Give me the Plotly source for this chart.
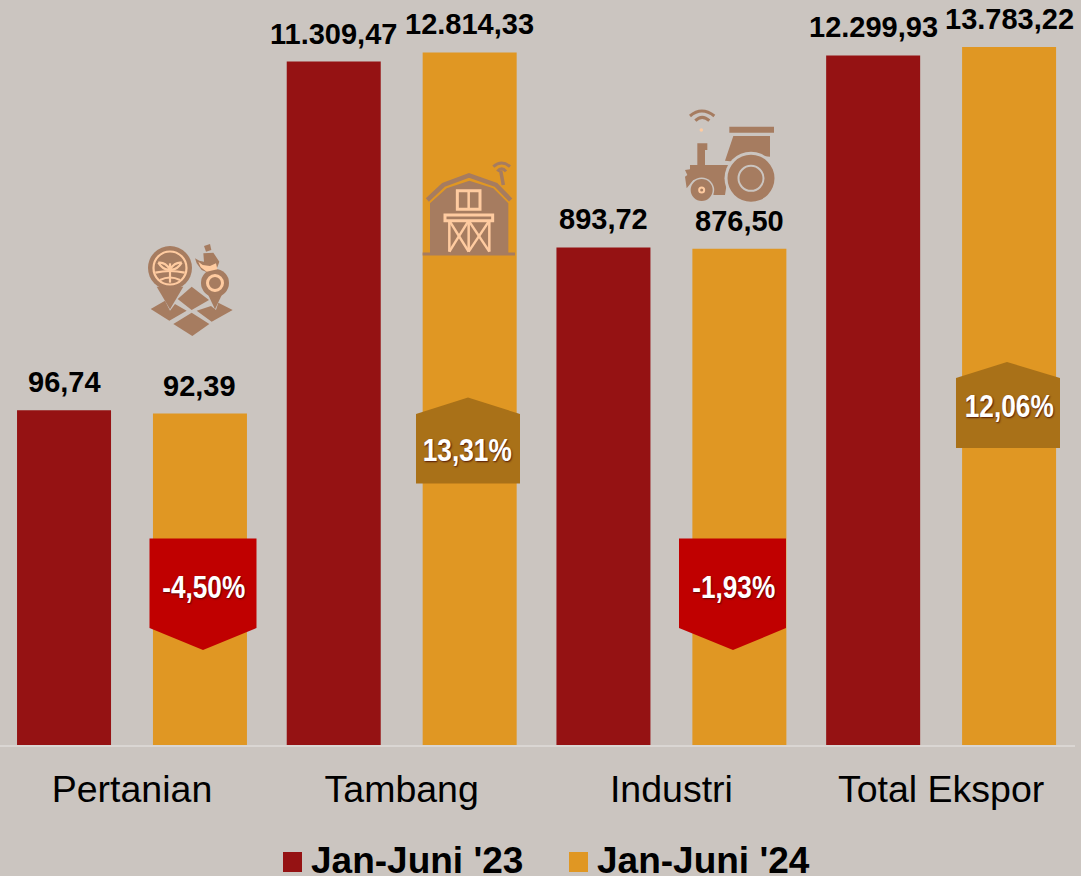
import math
import plotly.graph_objects as go

categories = ["Pertanian", "Tambang", "Industri", "Total Ekspor"]
values_23 = [96.74, 11309.47, 893.72, 12299.93]
values_24 = [92.39, 12814.33, 876.50, 13783.22]
series_names = ["Jan-Juni '23", "Jan-Juni '24"]
change_labels = ["-4,50%", "13,31%", "-1,93%", "12,06%"]

BG = "#CBC5C0"
RED = "#951213"
ORANGE = "#E09723"
ICON = "#A67C60"
PEACH = "#FFCBA0"
W, H = 1081, 876
MT, MB, MR = 0, 131, 6
PW = W - MR
PH = H - MT - MB

def X(p): return p / PW
def Y(p): return 1 - p / PH

def path(pts, close=True):
    s = "M" + " L".join(f"{X(a):.5f},{Y(b):.5f}" for a, b in pts)
    return s + (" Z" if close else "")

shapes = []
def poly(pts, fill, close=True, line=None, lw=0):
    shapes.append(dict(type="path", xref="paper", yref="paper", path=path(pts, close),
                       fillcolor=fill if close else "rgba(0,0,0,0)",
                       line=dict(color=line or "rgba(0,0,0,0)", width=lw)))
def circ(cx, cy, r, fill="rgba(0,0,0,0)", line=None, lw=0):
    shapes.append(dict(type="circle", xref="paper", yref="paper",
                       x0=X(cx - r), x1=X(cx + r), y0=Y(cy + r), y1=Y(cy - r),
                       fillcolor=fill, line=dict(color=line or "rgba(0,0,0,0)", width=lw)))
def curve(p0, c, p1, col, lw):
    shapes.append(dict(type="path", xref="paper", yref="paper",
                       path=f"M{X(p0[0]):.5f},{Y(p0[1]):.5f} Q{X(c[0]):.5f},{Y(c[1]):.5f} {X(p1[0]):.5f},{Y(p1[1]):.5f}",
                       line=dict(color=col, width=lw)))

def z(ox, oy, pts):
    return [(ox + a / 3, oy + b / 3) for a, b in pts]
def zc(o, a, b, c, col, lw):
    p = z(*o, [a, b, c])
    curve(p[0], p[1], p[2], col, lw)

# ---- callouts
poly([(149.5, 538.5), (256.5, 538.5), (256.5, 628), (203, 650), (149.5, 628)], "#C00000")
poly([(679, 538.5), (786, 538.5), (786, 628), (733, 650), (679, 628)], "#C00000")
poly([(416, 483.5), (416, 414), (468, 397.5), (520, 414), (520, 483.5)], "#A97118")
poly([(956, 448), (956, 378), (1007, 362), (1060, 378), (1060, 448)], "#A97118")

# ---- icon 1: map with two pins
o = (130, 230)
for d in ([(185,170),(237,210),(185,240),(143,207)],
          [(62,237),(105,212),(120,242),(135,222),(170,242),(118,272)],
          [(200,242),(243,228),(258,240),(265,218),(308,240),(245,275)],
          [(185,248),(238,282),(187,318),(130,282)]):
    poly(z(*o, d), ICON)
poly(z(*o, [(80,170),(160,170),(120,238)]), ICON)
circ(170, 268, 22, ICON)
circ(170, 268, 16.5, line=PEACH, lw=2.2)
poly(z(*o, [(120,100),(120,158)]), "", close=False, line=PEACH, lw=2.2)
zc(o, (120,118), (135,95), (155,98), PEACH, 2.2)
zc(o, (120,118), (140,122), (155,98), PEACH, 2.2)
zc(o, (120,118), (105,95), (85,98), PEACH, 2.2)
zc(o, (120,118), (100,122), (85,98), PEACH, 2.2)
zc(o, (76,128), (120,118), (164,128), PEACH, 2.2)
zc(o, (90,150), (120,135), (150,150), PEACH, 2.2)
poly(z(*o, [(225,175),(285,175),(255,238)]), ICON)
circ(215, 283, 14, ICON)
circ(215, 283, 7.5, line=PEACH, lw=3)
poly(z(*o, [(222,48),(240,42),(244,60),(228,65)]), ICON)
poly(z(*o, [(220,70),(250,68),(268,95),(262,112),(238,130),(215,120),(200,100),(195,85),(208,92),(222,95)]), ICON)
poly(z(*o, [(205,95),(218,105),(240,108),(258,100),(262,118),(230,125),(212,112)]), PEACH)

# ---- icon 2: barn
o = (410, 150)
poly(z(*o, [(60,160),(110,115),(178,92),(250,115),(295,160),(295,310),(60,310)]), ICON)
poly(z(*o, [(52,150),(100,105),(177,76),(258,105),(302,150)]), "", close=False, line=ICON, lw=4.5)
poly(z(*o, [(38,312),(315,312)]), "", close=False, line=ICON, lw=3)
poly(z(*o, [(272,62),(280,105)]), "", close=False, line=ICON, lw=3.5)
zc(o, (250,50), (275,28), (300,50), ICON, 3)
zc(o, (262,64), (275,48), (288,64), ICON, 3)
poly(z(*o, [(142,122),(210,122),(210,178),(142,178)]), "rgba(0,0,0,0)", line=PEACH, lw=3)
poly(z(*o, [(176,122),(176,178)]), "", close=False, line=PEACH, lw=2.5)
poly(z(*o, [(105,195),(248,195),(248,212),(105,212)]), ICON, line=PEACH, lw=3)
for seg in ([(118,212),(118,305)], [(238,212),(238,305)], [(176,212),(176,305)],
            [(118,212),(176,305)], [(176,212),(118,305)], [(176,212),(238,305)], [(238,212),(176,305)]):
    poly(z(*o, seg), "", close=False, line=PEACH, lw=2.5)

# ---- icon 3: tractor
o = (670, 100)
poly(z(*o, [(178,80),(312,80),(312,98),(178,98)]), ICON)
poly(z(*o, [(190,108),(300,108),(300,170),(235,165),(195,185),(165,182)]), ICON)
poly(z(*o, [(82,130),(112,130),(112,150),(105,150),(105,195),(82,195),(82,148)]), ICON)
poly(z(*o, [(60,195),(205,195),(172,240),(165,285),(130,285),(120,245),(70,240),(50,265),(45,230),(52,225),(45,210),(60,208)]), ICON)
big = z(*o, [(243,235)])[0]
small = z(*o, [(95,270)])[0]
circ(*big, 26.5, BG)
circ(*big, 23.5, ICON)
circ(*big, 12.5, line=BG, lw=2)
circ(*small, 12.5, BG)
circ(*small, 11, ICON)
circ(*small, 3.5, PEACH)
circ(*small, 1.5, ICON)
zc(o, (60,48), (95,18), (133,48), ICON, 3)
zc(o, (76,62), (96,42), (118,62), ICON, 3)
circ(*z(*o, [(94,90)])[0], 1.8, PEACH)

# ---- legend keys
poly([(283, 852), (302, 852), (302, 872), (283, 872)], RED)
poly([(569, 852), (588, 852), (588, 872), (569, 872)], ORANGE)

annotations = []
def label(txt, cx, cy, size, family, color="#000000", shadow=None):
    f = dict(size=size, family=family, color=color, weight="bold")
    if shadow:
        f["shadow"] = shadow
    annotations.append(dict(text=txt, xref="paper", yref="paper", x=X(cx), y=Y(cy),
                            xanchor="center", yanchor="middle", showarrow=False, font=f))

SH = "1px 1px 2px rgba(60,0,0,0.8)"
SANS = "'Liberation Sans', Arial, sans-serif"
centers = [(203, 587), (467, 450), (733, 587), (1009, 406)]
for t, (cx, cy) in zip(change_labels, centers):
    label(t, cx, cy, 32, SANS, "#FFFFFF", SH)
label(series_names[0], 417, 860, 37, SANS)
label(series_names[1], 703, 860, 37, SANS)

def fmt(v):
    return f"{v:,.2f}".replace(",", "#").replace(".", ",").replace("#", ".")

PITCH = 0.504
BW = 0.3485
PX_UNIT = 269.7
fig = go.Figure()
for name, vals, col, sign in ((series_names[0], values_23, RED, -1),
                              (series_names[1], values_24, ORANGE, 1)):
    fig.add_bar(x=categories, y=vals, name=name, width=BW, offset=sign * PITCH / 2 - BW / 2,
                marker=dict(color=col, line=dict(width=0)), showlegend=False)
    for i, v in enumerate(vals):
        annotations.append(dict(x=i, y=math.log10(v), xref="x", yref="y", text=fmt(v),
                                showarrow=False, xanchor="center", yanchor="middle",
                                xshift=sign * PITCH / 2 * PX_UNIT, yshift=28,
                                font=dict(size=29, family=SANS, color="#000000", weight="bold")))

fig.update_layout(
    width=W, height=H, autosize=False,
    margin=dict(l=0, r=MR, t=MT, b=MB, pad=0),
    paper_bgcolor=BG, plot_bgcolor=BG,
    barmode="overlay", separators=",.",
    shapes=shapes, annotations=annotations,
    showlegend=False,
    xaxis=dict(type="category", range=[-0.4894, 3.4964], showgrid=False, zeroline=False,
               showline=True, linecolor="#DAD6D3", linewidth=2, ticks="outside",
               ticklen=10, tickcolor="rgba(0,0,0,0)",
               tickfont=dict(size=37.5, family=SANS, color="#000000")),
    yaxis=dict(type="log", range=[0, 745 / 168.6], visible=False, showgrid=False, zeroline=False),
)
post = """
document.body.style.margin='0';document.body.style.overflow='hidden';
function narrow(){
  document.querySelectorAll('.annotation-text').forEach(function(t){
    if(t.textContent.indexOf('%')>=0){
      t.setAttribute('textLength', t.textContent[0]==='-' ? 83 : 89);
      t.setAttribute('lengthAdjust','spacingAndGlyphs');
    }
  });
}
narrow();setTimeout(narrow,50);setTimeout(narrow,300);setTimeout(narrow,1000);
"""
fig.write_html("out.html", config=dict(displayModeBar=False), post_script=post)
